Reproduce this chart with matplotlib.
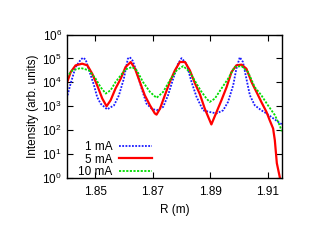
import numpy as np
import matplotlib
matplotlib.use("Agg")
import matplotlib.pyplot as plt

plt.rcParams['font.family'] = ['Liberation Sans', 'DejaVu Sans']

# 1 mA (blue, dotted)
r_1 = [1.8400, 1.8414, 1.8431, 1.8449, 1.8457, 1.8466, 1.8478, 1.8495, 1.8506, 1.8518,
       1.8541, 1.8565, 1.8582, 1.8599, 1.8613, 1.8620, 1.8630, 1.8644, 1.8661, 1.8678,
       1.8696, 1.8713, 1.8736, 1.8753, 1.8771, 1.8788, 1.8800, 1.8817, 1.8835, 1.8852,
       1.8858, 1.8875, 1.8898, 1.8922, 1.8945, 1.8962, 1.8980, 1.8991, 1.9003, 1.9014,
       1.9026, 1.9038, 1.9055, 1.9078, 1.9096, 1.9113, 1.9136, 1.9149]
log_1 = [3.33, 3.96, 4.64, 4.95, 5.03, 4.95, 4.5, 3.88, 3.39, 3.11,
         2.87, 3.04, 3.46, 4.15, 4.99, 5.05, 4.9, 4.43, 3.74, 3.11,
         2.9, 2.83, 2.97, 3.46, 4.15, 4.78, 5.01, 4.78, 4.01, 3.4,
         3.25, 2.83, 2.76, 2.7, 2.83, 3.18, 3.88, 4.57, 5.05, 4.85,
         4.15, 3.46, 3.04, 2.83, 2.7, 2.55, 2.35, 2.25]

# 5 mA (red, solid)
r_5 = [1.8400, 1.8414, 1.8431, 1.8454, 1.8472, 1.8489, 1.8506, 1.8524, 1.8539, 1.8553,
       1.8570, 1.8588, 1.8605, 1.8623, 1.8638, 1.8655, 1.8672, 1.8690, 1.8707, 1.8713,
       1.8725, 1.8742, 1.8759, 1.8777, 1.8794, 1.8812, 1.8829, 1.8846, 1.8864, 1.8881,
       1.8904, 1.8922, 1.8939, 1.8957, 1.8974, 1.8991, 1.9009, 1.9026, 1.9044, 1.9061,
       1.9078, 1.9096, 1.9107, 1.9119, 1.9125, 1.9132, 1.9142, 1.9147]
log_5 = [3.95, 4.43, 4.71, 4.78, 4.71, 4.36, 3.88, 3.32, 3.0, 3.25,
         3.74, 4.15, 4.64, 4.85, 4.57, 4.01, 3.46, 3.04, 2.7, 2.65,
         2.9, 3.46, 4.01, 4.5, 4.85, 4.85, 4.5, 3.98, 3.5, 2.9,
         2.24, 2.76, 3.25, 3.8, 4.43, 4.71, 4.74, 4.57, 4.01, 3.6,
         3.18, 2.76, 2.42, 2.07, 1.58, 0.62, 0.05, -0.3]

# 10 mA (green, dotted)
r_10 = [1.8400, 1.8420, 1.8449, 1.8478, 1.8501, 1.8518, 1.8536, 1.8553, 1.8570, 1.8588,
        1.8605, 1.8628, 1.8644, 1.8666, 1.8690, 1.8713, 1.8736, 1.8759, 1.8783, 1.8806,
        1.8829, 1.8852, 1.8867, 1.8887, 1.8898, 1.8916, 1.8939, 1.8962, 1.8985, 1.9009,
        1.9032, 1.9055, 1.9078, 1.9101, 1.9125, 1.9142, 1.9149]
log_10 = [4.22, 4.5, 4.6, 4.5, 4.15, 3.8, 3.53, 3.67, 4.01, 4.29,
          4.54, 4.64, 4.5, 4.01, 3.6, 3.35, 3.6, 4.08, 4.5, 4.68,
          4.43, 3.95, 3.65, 3.32, 3.18, 3.32, 3.74, 4.15, 4.64, 4.68,
          4.43, 3.8, 3.46, 3.04, 2.63, 2.2, 1.95]

labels = ["1 mA", "5 mA", "10 mA"]
xticks = [1.85, 1.87, 1.89, 1.91]

fig = plt.figure(figsize=(3.14, 2.42), dpi=100)
ax = fig.add_axes([66.7/314, 1 - 178/242, (282 - 66.7)/314, (178 - 34.5)/242])

ax.plot(r_1, 10**np.array(log_1), color='#1a1aff', lw=1.3, ls=(0, (1, 0.8)), label=labels[0])
ax.plot(r_5, 10**np.array(log_5), color='#ff0000', lw=1.6, ls='-', label=labels[1])
ax.plot(r_10, 10**np.array(log_10), color='#00dd00', lw=1.3, ls=(0, (1.2, 0.8)), label=labels[2])

ax.set_yscale('log')
ax.set_xlim(1.84, 1.915)
ax.set_ylim(1, 1e6)
ax.set_xticks(xticks)
ax.set_xticklabels([f"{v:.2f}" for v in xticks])
ax.set_yticks([10**k for k in range(7)])
ax.yaxis.set_minor_locator(matplotlib.ticker.NullLocator())
ax.tick_params(direction='in', top=True, right=True, length=4, width=0.8, labelsize=8.5)
ax.tick_params(axis='x', pad=6)
for s in ax.spines.values():
    s.set_linewidth(1.0)

ax.set_xlabel("R (m)", fontsize=8.5, labelpad=4)
ax.set_ylabel("Intensity (arb. units)", fontsize=8.5, labelpad=2)

ax.legend(loc='lower left', markerfirst=False, frameon=False, fontsize=8.5,
          handlelength=2.8, handletextpad=0.6, labelspacing=0.05,
          borderaxespad=0.2, bbox_to_anchor=(0.02, -0.05))

fig.savefig("out.png", dpi=100)
